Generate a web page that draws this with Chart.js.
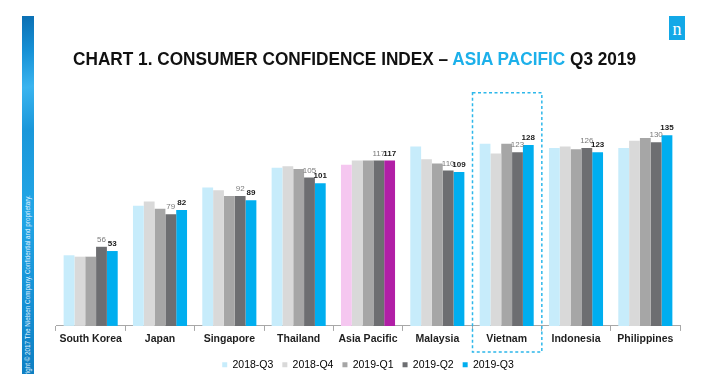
<!DOCTYPE html>
<html>
<head>
<meta charset="utf-8">
<script src="https://cdn.jsdelivr.net/npm/chart.js@4.4.1/dist/chart.umd.min.js"></script>
<style>
  html, body { margin: 0; padding: 0; background: #fff; }
  #wrap { position: relative; width: 707px; height: 387px; overflow: hidden; font-family: "Liberation Sans", Arial, sans-serif; }
  #myChart { position: absolute; left: 0; top: 0; }
  .strip {
    position: absolute; left: 22px; top: 16px; width: 12px; height: 358px; overflow: hidden;
    background: linear-gradient(170deg, #0b6fb3 0%, #1691d6 10%, #3ab4ef 20%, #1a97da 32%, #22a6e6 55%, #1590d4 80%, #0e7fc2 100%);
  }
  .strip span {
    position: absolute; left: 2px; bottom: -24px; white-space: nowrap;
    transform-origin: 0 0; transform: rotate(-90deg);
    font-size: 6.3px; line-height: 8px; color: #e4f4ff;
  }
  #title {
    position: absolute; left: 73px; top: 50.8px; white-space: nowrap;
    font-size: 17.5px; line-height: 17.5px; font-weight: bold; color: #111;
    transform-origin: 0 0;
  }
  #title .hl { color: #1cb0ea; }
  .logo {
    position: absolute; left: 669px; top: 16px; width: 16px; height: 24px; background: #12a8e7;
    color: #fff; font-family: "Liberation Serif", "DejaVu Serif", serif; font-size: 18px; line-height: 18px; text-align: center;
  }
  .logo b { position: absolute; left: 0; right: 0; top: 4px; font-weight: normal; }
</style>
</head>
<body>
<div id="wrap">
  <canvas id="myChart" width="707" height="387"></canvas>
  <div class="strip"><span>Copyright © 2017 The Nielsen Company. Confidential and proprietary.</span></div>
  <div id="title">CHART 1. CONSUMER CONFIDENCE INDEX – <span class="hl">ASIA PACIFIC</span> Q3 2019</div>
  <div class="logo"><b>n</b></div>
</div>
<script>
// data
const countries = ["South Korea", "Japan", "Singapore", "Thailand", "Asia Pacific", "Malaysia", "Vietnam", "Indonesia", "Philippines"];
const quarters = ["2018-Q3", "2018-Q4", "2019-Q1", "2019-Q2", "2019-Q3"];
const q3_2018 = [50, 85, 98, 112, 114, 127, 129, 126, 126];
const q4_2018 = [49, 88, 96, 113, 117, 118, 122, 127, 131];
const q1_2019 = [49, 83, 92, 111, 117, 115, 129, 125, 133];
const q2_2019 = [56, 79, 92, 105, 117, 110, 123, 126, 130];
const q3_2019 = [53, 82, 89, 101, 117, 109, 128, 123, 135];
const highlight = "Vietnam";
const regionLabel = "Asia Pacific";

// colours
const regionIdx = countries.indexOf(regionLabel);
const colors = ["#c7ecfb", "#d9d9d9", "#a6a6a6", "#6d6e71", "#00aeef"];
const regionFirst = "#f5c7f0";
const regionLast = "#b11fa6";

// title squeeze, the original uses a narrow font
const titleEl = document.getElementById("title");
titleEl.style.transform = "scaleX(" + (563 / titleEl.offsetWidth) + ")";

// value labels for the last two quarters
const valueLabels = {
  id: "valueLabels",
  afterDatasetsDraw(chart) {
    const ctx = chart.ctx;
    ctx.save();
    ctx.textAlign = "center";
    ctx.textBaseline = "alphabetic";
    [3, 4].forEach(di => {
      const meta = chart.getDatasetMeta(di);
      ctx.font = (di === 4 ? "bold " : "") + "8px 'Liberation Sans', Arial, sans-serif";
      ctx.fillStyle = di === 4 ? "#1a1a1a" : "#7a7a7a";
      meta.data.forEach((bar, i) => {
        ctx.fillText(chart.data.datasets[di].data[i], bar.x, bar.y - 5);
      });
    });
    ctx.restore();
  }
};

// dashed box round the highlighted country
const highlightBox = {
  id: "highlightBox",
  afterDraw(chart) {
    const x = chart.scales.x, y = chart.scales.y;
    const i = countries.indexOf(highlight);
    const half = (x.getPixelForValue(1) - x.getPixelForValue(0)) / 2;
    const cx = x.getPixelForValue(i);
    const top = y.getPixelForValue(165);
    const bottom = chart.chartArea.bottom + 26;
    const ctx = chart.ctx;
    ctx.save();
    ctx.strokeStyle = "#2db7ea";
    ctx.lineWidth = 1.5;
    ctx.setLineDash([3, 2.5]);
    ctx.strokeRect(cx - half + 0.5, top, half * 2, bottom - top);
    ctx.restore();
  }
};

const data = {
  labels: countries,
  datasets: [
    { label: quarters[0], data: q3_2018, backgroundColor: (c) => c.dataIndex === regionIdx ? regionFirst : colors[0] },
    { label: quarters[1], data: q4_2018, backgroundColor: colors[1] },
    { label: quarters[2], data: q1_2019, backgroundColor: colors[2] },
    { label: quarters[3], data: q2_2019, backgroundColor: colors[3] },
    { label: quarters[4], data: q3_2019, backgroundColor: (c) => c.dataIndex === regionIdx ? regionLast : colors[4] },
  ],
};

const config = {
  type: "bar",
  data,
  options: {
    responsive: false,
    animation: false,
    layout: { padding: { left: 56, right: 27, top: 114, bottom: 7 } },
    datasets: { bar: { categoryPercentage: 0.78, barPercentage: 1.0, borderWidth: 0 } },
    scales: {
      x: {
        afterFit: (scale) => { scale.height += 3; },
        grid: { display: true, drawOnChartArea: false, drawTicks: true, tickLength: 5, color: "#a8a8a8", offset: true },
        border: { display: true, color: "#a8a8a8", width: 1 },
        ticks: { padding: 2, color: "#1e1e1e", font: { family: "'Liberation Sans', Arial, sans-serif", size: 10.5, weight: "bold" } },
      },
      y: { display: false, min: 0, max: 150 },
    },
    plugins: {
      tooltip: { enabled: false },
      legend: {
        position: "bottom",
        labels: {
          boxWidth: 5, boxHeight: 5, padding: 9, color: "#333",
          font: { family: "'Liberation Sans', Arial, sans-serif", size: 10.5 },
          generateLabels: (chart) => chart.data.datasets.map((d, i) => ({
            text: d.label, fillStyle: colors[i], strokeStyle: colors[i], lineWidth: 0, datasetIndex: i, hidden: false,
          })),
        },
      },
    },
  },
  plugins: [valueLabels, highlightBox],
};

const myChart = new Chart(document.getElementById("myChart"), config);
</script>
</body>
</html>
